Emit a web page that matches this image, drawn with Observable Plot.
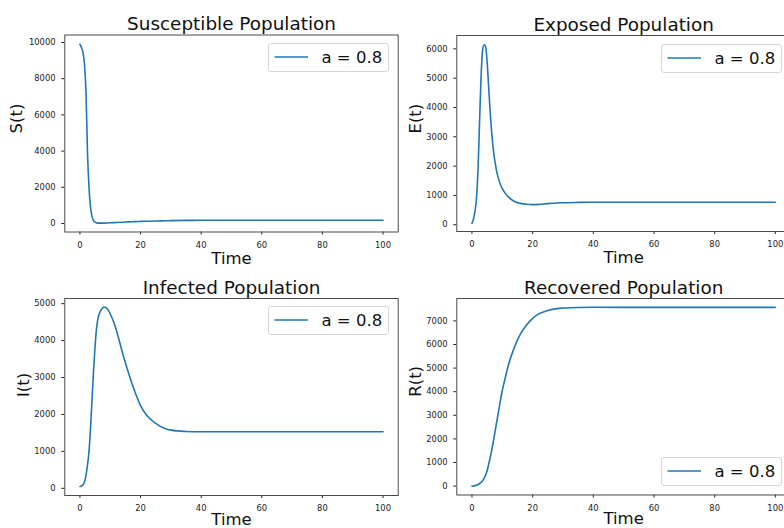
<!DOCTYPE html>
<html>
<head>
<meta charset="utf-8">
<script src="https://cdn.jsdelivr.net/npm/d3@7"></script>
<script src="https://cdn.jsdelivr.net/npm/@observablehq/plot@0.6"></script>
<style>
  html, body { margin: 0; padding: 0; background: #fff; }
  #fig { position: relative; width: 784px; height: 528px; overflow: hidden; background: #fff; font-family: "DejaVu Sans", sans-serif; }
  .panel { position: absolute; }
  .legend { position: absolute; width: 121px; height: 29px; box-sizing: border-box; border: 1px solid #d6d6d6; border-radius: 3px; background: rgba(255,255,255,0.8); }
  .legend svg { position: absolute; left: 0; top: 0; overflow: visible; }
</style>
</head>
<body>
<div id="fig"></div>
<script>
// ---- data ----
const time = [0,0.5,1,1.5,2,2.5,3,3.5,4,4.5,5,5.5,6,7,8,9,10,11,12,14,16,18,20,22,25,28,30,35,40,50,60,70,80,90,100];
const susceptible = [9900,9720,9450,8800,7200,3850,1950,890,380,160,70,35,20,18,22,30,38,47,56,72,88,102,115,125,138,150,158,170,176,180,181,181,181,181,181];
const exposed = [50,200,470,920,1900,3500,5050,5950,6140,6080,5550,4700,3850,2600,1900,1480,1230,1070,950,795,730,700,688,695,720,740,750,762,768,770,770,770,770,770,770];
const infected = [50,60,95,170,350,640,1010,1650,2420,3210,3860,4350,4620,4830,4910,4860,4720,4530,4290,3680,3130,2640,2240,1980,1760,1620,1575,1540,1530,1530,1530,1530,1530,1530,1530];
const recovered = [0,5,20,40,70,110,160,230,330,470,650,920,1200,1850,2600,3350,4050,4600,5120,5890,6450,6830,7110,7300,7440,7520,7545,7570,7576,7576,7576,7576,7576,7576,7576];

const titles = ["Susceptible Population","Exposed Population","Infected Population","Recovered Population"];
const yLabels = ["S(t)","E(t)","I(t)","R(t)"];
const xLabel = "Time";
const legendLabel = "a = 0.8";
const xTicks = [0,20,40,60,80,100];
const yTicksS = [0,2000,4000,6000,8000,10000];
const yTicksE = [0,1000,2000,3000,4000,5000,6000];
const yTicksI = [0,1000,2000,3000,4000,5000];
const yTicksR = [0,1000,2000,3000,4000,5000,6000,7000];

const fig = document.getElementById("fig");
const BLUE = "#1f77b4";

function panel({left, top, mt, mb, mr, values, title, ylabel, yDomain, yTicks, labelDx, timeDy, legend}) {
  const data = time.map((t, i) => ({t, v: values[i]}));
  const W = 400, H = 264;
  const chart = Plot.plot({
    width: W, height: H,
    marginLeft: 64.3, marginRight: mr, marginTop: mt, marginBottom: mb,
    style: {background: "transparent", overflow: "visible", fontFamily: "DejaVu Sans", fontSize: "8.4px", color: "#222"},
    x: {domain: [-5, 105], ticks: xTicks, tickSize: 3, tickPadding: 7, tickFormat: d => String(d), label: null},
    y: {domain: yDomain, ticks: yTicks, tickSize: 3, tickPadding: 6.2, tickFormat: d => String(d), label: null},
    marks: [
      Plot.line(data, {x: "t", y: "v", stroke: BLUE, strokeWidth: 1.6, curve: "monotone-x"}),
      Plot.frame({stroke: "#4a4a4a", strokeWidth: 1}),
      Plot.text([title], {text: d => d, frameAnchor: "top", dy: -5, lineAnchor: "bottom", fontSize: 18.4, fill: "#111"}),
      Plot.text([xLabel], {text: d => d, frameAnchor: "bottom", dy: timeDy, lineAnchor: "bottom", fontSize: 16.5, fill: "#111"}),
      Plot.text([ylabel], {text: d => d, frameAnchor: "left", dx: labelDx, rotate: -90, lineAnchor: "bottom", fontSize: 16.5, fill: "#111"})
    ]
  });
  chart.classList.add("panel");
  chart.style.left = left + "px";
  chart.style.top = top + "px";
  fig.appendChild(chart);

  // legend box
  const lg = document.createElement("div");
  lg.className = "legend";
  lg.style.left = legend.left + "px";
  lg.style.top = legend.top + "px";
  const s = d3.create("svg").attr("width", 121).attr("height", 29);
  s.append("line").attr("x1", 5.5).attr("x2", 39).attr("y1", 13).attr("y2", 13)
    .attr("stroke", BLUE).attr("stroke-width", 1.6);
  s.append("text").attr("x", 52.5).attr("y", 18.6)
    .attr("font-family", "DejaVu Sans").attr("font-size", 16.5).attr("fill", "#111")
    .text(legendLabel);
  lg.appendChild(s.node());
  fig.appendChild(lg);
}

panel({left: 0, top: 0, mt: 34.5, mb: 32.5, mr: 2.3, values: susceptible, title: titles[0], ylabel: yLabels[0],
  yDomain: [-470, 10415], yTicks: yTicksS, labelDx: -42.4, timeDy: 31.5, legend: {left: 267.7, top: 43.3}});
panel({left: 392, top: 0, mt: 35, mb: 33, mr: 2, values: exposed, title: titles[1], ylabel: yLabels[1],
  yDomain: [-230, 6455], yTicks: yTicksE, labelDx: -35.4, timeDy: 31.5, legend: {left: 660.5, top: 43.5}});
panel({left: 0, top: 264, mt: 34, mb: 33, mr: 2.3, values: infected, title: titles[2], ylabel: yLabels[2],
  yDomain: [-195, 5140], yTicks: yTicksI, labelDx: -35.4, timeDy: 29, legend: {left: 267.7, top: 306.3}});
panel({left: 392, top: 264, mt: 34, mb: 33.5, mr: 2, values: recovered, title: titles[3], ylabel: yLabels[3],
  yDomain: [-378, 7950], yTicks: yTicksR, labelDx: -35.4, timeDy: 28.5, legend: {left: 660.5, top: 456.5}});
</script>
</body>
</html>
